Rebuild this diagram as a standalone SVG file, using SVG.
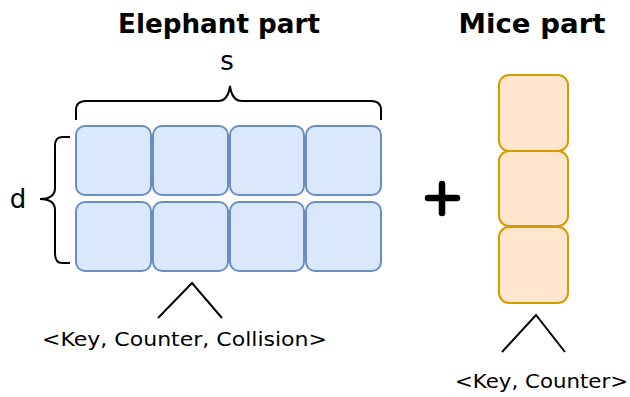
<svg xmlns="http://www.w3.org/2000/svg" width="630" height="397" viewBox="0 0 630 397">
  <style>
    .lbl { font-family: "Comic Sans MS", "DejaVu Sans", sans-serif; fill: #000; }
    .title { font-size: 26px; font-weight: bold; }
    .txt { font-size: 20px; }
    .big { font-size: 26px; }
    .cellB { fill: #dae8fc; stroke: #6c8ebf; stroke-width: 2; }
    .cellO { fill: #ffe6cc; stroke: #d79b00; stroke-width: 2; }
    .ln { fill: none; stroke: #000; stroke-width: 2; }
  </style>
  <rect width="630" height="397" fill="#fff"/>

  <!-- titles -->
  <text class="lbl title" x="219" y="33" text-anchor="middle" textLength="202" lengthAdjust="spacingAndGlyphs">Elephant part</text>
  <text class="lbl title" x="532" y="33" text-anchor="middle" textLength="147" lengthAdjust="spacingAndGlyphs">Mice part</text>
  <text class="lbl big" x="227" y="70" text-anchor="middle">s</text>
  <text class="lbl big" x="18" y="208" text-anchor="middle">d</text>

  <!-- elephant part grid -->
  <g id="elephant">
    <rect class="cellB" x="76" y="126" width="75" height="69" rx="9"/>
    <rect class="cellB" x="153" y="126" width="75" height="69" rx="9"/>
    <rect class="cellB" x="230" y="126" width="74" height="69" rx="9"/>
    <rect class="cellB" x="306" y="126" width="75" height="69" rx="9"/>
    <rect class="cellB" x="76" y="202" width="75" height="69" rx="9"/>
    <rect class="cellB" x="153" y="202" width="75" height="69" rx="9"/>
    <rect class="cellB" x="230" y="202" width="74" height="69" rx="9"/>
    <rect class="cellB" x="306" y="202" width="75" height="69" rx="9"/>
  </g>

  <!-- mice part column -->
  <g id="mice">
    <rect class="cellO" x="499" y="75" width="69" height="76" rx="10"/>
    <rect class="cellO" x="499" y="151" width="69" height="75" rx="10"/>
    <rect class="cellO" x="499" y="227" width="69" height="76" rx="10"/>
  </g>

  <!-- plus sign -->
  <g id="plus">
    <path d="M428 198 H457 M442 184 V213" fill="none" stroke="#000" stroke-width="6.5" stroke-linecap="round"/>
  </g>

  <!-- braces and pointers -->
  <g id="connectors">
    <path class="ln" d="M76 120 V110 Q76 101 86 101 H218 Q228 101 230 86 Q232 101 242 101 H371 Q381 101 381 110 V120"/>
    <path class="ln" d="M70 137 H62 Q55 137 55 146 V188 Q55 199 40 199 Q55 199 55 210 V253 Q55 263 62 263 H70"/>
    <path class="ln" d="M158 318 L192 283 L222 318"/>
    <path class="ln" d="M502 352 L536 315 L565 352"/>
  </g>

  <!-- field labels -->
  <text class="lbl txt" x="42" y="346" textLength="285" lengthAdjust="spacingAndGlyphs">&lt;Key, Counter, Collision&gt;</text>
  <text class="lbl txt" x="455" y="388" textLength="173" lengthAdjust="spacingAndGlyphs">&lt;Key, Counter&gt;</text>
</svg>
